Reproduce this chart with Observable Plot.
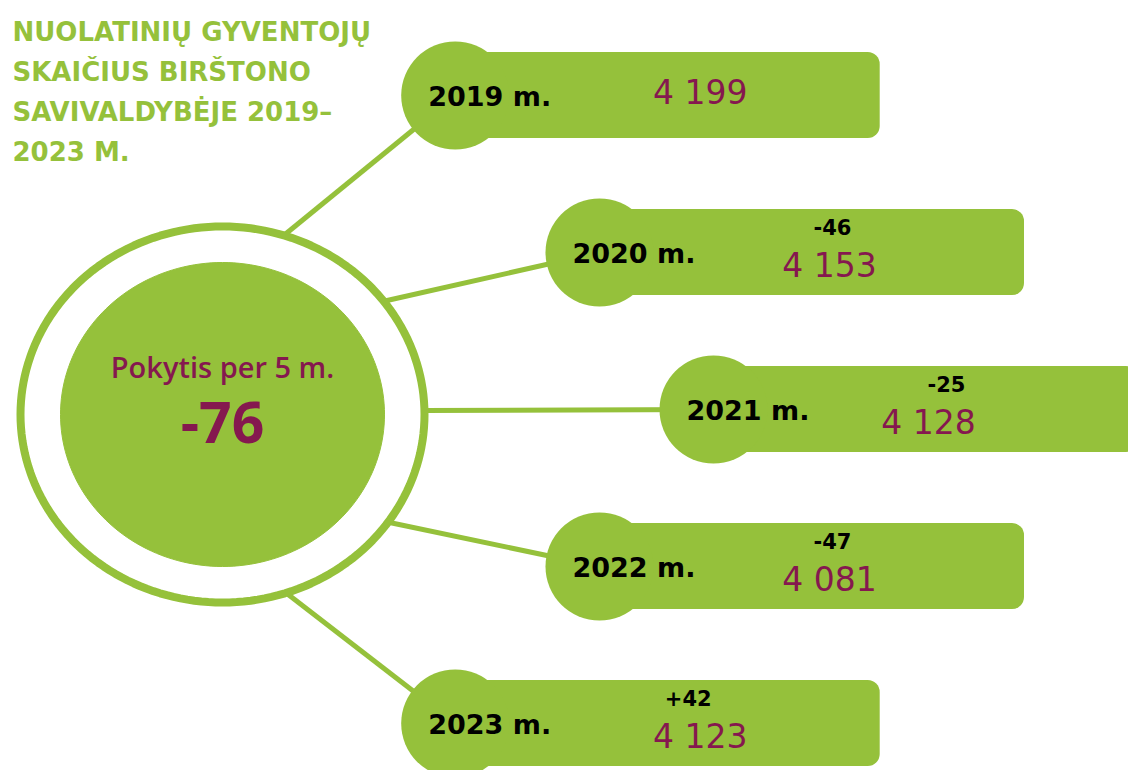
<!DOCTYPE html>
<html><head><meta charset="utf-8">
<script src="https://cdn.jsdelivr.net/npm/d3@7"></script>
<script src="https://cdn.jsdelivr.net/npm/@observablehq/plot@0.6"></script>
<style>
html,body{margin:0;padding:0;background:#fff;overflow:hidden;}
#chart svg{display:block;}
</style></head><body><div id="chart"></div>
<script>
// ---- data ----
const years = [2019, 2020, 2021, 2022, 2023];
const residents = [4199, 4153, 4128, 4081, 4123];
const changes = [null, -46, -25, -47, 42];
const totalChange = -76;
const centerLabel = "Pokytis per 5 m.";
const titleLines = ["NUOLATINIŲ GYVENTOJŲ", "SKAIČIUS BIRŠTONO", "SAVIVALDYBĖJE 2019–", "2023 M."];
const yearSuffix = " m.";

// ---- styling / layout ----
const W = 1128, H = 770;
const GREEN = "#95c13b", PURPLE = "#85184f";
const locale = d3.formatLocale({decimal: ",", thousands: " ", grouping: [3], currency: ["", " €"], minus: "-"});
const fmtNum = locale.format(",");
const fmtChange = locale.format("+");
const fmtTotal = locale.format("");

const hub = {x: 222, y: 414, rx: 202, ry: 188, innerRx: 162, innerRy: 152};
const rows = years.map((year, i) => {
  const d = Math.abs(i - 2);
  const cx = 713 - 114 * Math.pow(d, 1.18);
  const cy = 95 + 157 * i;
  const a = (i - 2) * 36 * Math.PI / 180;
  return {year, value: residents[i], change: changes[i], i, d, cx, cy,
    sx: hub.x + hub.rx * Math.cos(a), sy: hub.y + hub.ry * Math.sin(a) - 4 * Math.cos(a)};
});
const ellipse = (rx, ry) => d3.range(0, 180).map(k => {
  const t = k / 180 * 2 * Math.PI;
  return {x: hub.x + rx * Math.cos(t), y: hub.y + ry * Math.sin(t)};
});

const chart = Plot.plot({
  width: W, height: H,
  margin: 0,
  x: {domain: [0, W], range: [0, W], axis: null},
  y: {domain: [0, H], range: [0, H], axis: null},
  marks: [
    Plot.link(rows, {x1: "sx", y1: "sy", x2: "cx", y2: "cy", stroke: GREEN, strokeWidth: 5}),
    Plot.line(ellipse(hub.rx, hub.ry), {x: "x", y: "y", curve: "linear-closed", stroke: GREEN, strokeWidth: 8, fill: "none"}),
    Plot.line(ellipse(hub.innerRx, hub.innerRy), {x: "x", y: "y", curve: "linear-closed", stroke: GREEN, strokeWidth: 1, fill: GREEN}),
    Plot.rect(rows, {x1: "cx", x2: d => d.cx + 425, y1: d => d.cy - 43, y2: d => d.cy + 43, fill: GREEN, rx: 12}),
    Plot.dot(rows, {x: "cx", y: "cy", r: 54, fill: GREEN, stroke: null}),
    Plot.text(rows, {x: d => d.cx - 27, y: d => d.cy + 2, text: d => d.year + yearSuffix, textAnchor: "start",
      fontSize: 27, fontWeight: "bold", fill: "#000", fontFamily: "DejaVu Sans"}),
    Plot.text(rows, {x: d => d.cx + 215 + 15 * d.d, y: d => d.change == null ? d.cy - 2 : d.cy + 14, text: d => fmtNum(d.value),
      fontSize: 33, fill: PURPLE, fontFamily: "DejaVu Sans"}),
    Plot.text(rows.filter(d => d.change != null), {x: d => d.cx + 233, y: d => d.cy - 24, text: d => fmtChange(d.change),
      fontSize: 21, fontWeight: "bold", fill: "#000", fontFamily: "DejaVu Sans"}),
    Plot.text(titleLines, {x: 12, y: (d, i) => 40 + 40 * i, text: d => d, textAnchor: "start", lineAnchor: "bottom",
      fontSize: 26, fontWeight: "bold", fill: GREEN, fontFamily: "DejaVu Sans"}),
    Plot.text([centerLabel], {x: hub.x, y: 368, text: d => d, fontSize: 29, fontWeight: 600, fill: PURPLE, fontFamily: "Open Sans"}),
    Plot.text([totalChange], {x: hub.x, y: 424, text: d => fmtTotal(d), fontSize: 57, fontWeight: "bold", fill: PURPLE, fontFamily: "Open Sans"})
  ]
});
document.getElementById("chart").appendChild(chart);
</script></body></html>
